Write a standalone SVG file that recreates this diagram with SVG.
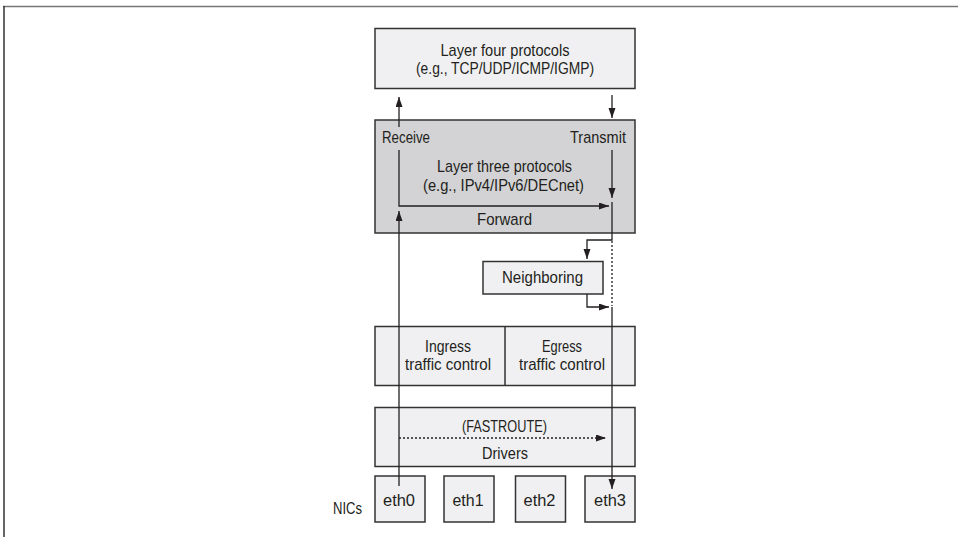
<svg xmlns="http://www.w3.org/2000/svg" width="958" height="537" viewBox="0 0 958 537">
<style>
.box{fill:#f0f0f2;stroke:#333;stroke-width:1.5}
.dark{fill:#d3d3d5;stroke:#333;stroke-width:1.5}
.t{font-family:"Liberation Sans",Arial,sans-serif;font-size:17px;fill:#231f20;text-anchor:middle}
.ln{fill:none;stroke:#231f20;stroke-width:1.3}
.dot{fill:none;stroke:#231f20;stroke-width:1.3;stroke-dasharray:2,2}
</style>
<defs>
<marker id="ah" markerUnits="userSpaceOnUse" markerWidth="11" markerHeight="8" refX="10" refY="3.5" orient="auto">
<path d="M0,0 L10,3.5 L0,7 z" fill="#231f20"/>
</marker>
</defs>
<rect width="958" height="537" fill="#fff"/>
<g id="frame">
<line x1="3" y1="6.5" x2="958" y2="6.5" stroke="#777" stroke-width="1.5"/>
<line x1="4" y1="6" x2="4" y2="537" stroke="#333" stroke-width="1.5"/>
</g>
<g id="layer4">
<rect class="box" x="375" y="28.5" width="260" height="60"/>
<text class="t" x="505" y="56" textLength="129" lengthAdjust="spacingAndGlyphs">Layer four protocols</text>
<text class="t" x="505" y="74" textLength="178" lengthAdjust="spacingAndGlyphs">(e.g., TCP/UDP/ICMP/IGMP)</text>
</g>
<g id="layer3">
<rect class="dark" x="375" y="120" width="260" height="113"/>
<text class="t" x="406" y="143" textLength="48" lengthAdjust="spacingAndGlyphs">Receive</text>
<text class="t" x="598" y="143" textLength="56" lengthAdjust="spacingAndGlyphs">Transmit</text>
<text class="t" x="504.5" y="172" textLength="135" lengthAdjust="spacingAndGlyphs">Layer three protocols</text>
<text class="t" x="503.5" y="191" textLength="161" lengthAdjust="spacingAndGlyphs">(e.g., IPv4/IPv6/DECnet)</text>
<text class="t" x="504.5" y="225" textLength="55" lengthAdjust="spacingAndGlyphs">Forward</text>
</g>
<g id="neighboring">
<rect class="box" x="483" y="261.5" width="120" height="32.5"/>
<text class="t" x="542.5" y="283" textLength="81" lengthAdjust="spacingAndGlyphs">Neighboring</text>
</g>
<g id="trafficcontrol">
<rect class="box" x="375" y="326.5" width="260" height="59"/>
<line x1="505" y1="326.5" x2="505" y2="385.5" stroke="#333" stroke-width="1.5"/>
<text class="t" x="448" y="352" textLength="46" lengthAdjust="spacingAndGlyphs">Ingress</text>
<text class="t" x="448" y="370" textLength="86" lengthAdjust="spacingAndGlyphs">traffic control</text>
<text class="t" x="562" y="352" textLength="40" lengthAdjust="spacingAndGlyphs">Egress</text>
<text class="t" x="562" y="370" textLength="86" lengthAdjust="spacingAndGlyphs">traffic control</text>
</g>
<g id="drivers">
<rect class="box" x="375" y="407.5" width="260" height="59"/>
<text class="t" x="504.5" y="432" textLength="85" lengthAdjust="spacingAndGlyphs">(FASTROUTE)</text>
<text class="t" x="505" y="459" textLength="46" lengthAdjust="spacingAndGlyphs">Drivers</text>
</g>
<g id="eth0">
<rect class="box" x="375" y="476" width="50" height="46"/>
<text class="t" x="399" y="506" textLength="32" lengthAdjust="spacingAndGlyphs">eth0</text>
</g>
<g id="eth1">
<rect class="box" x="444" y="476" width="50" height="46"/>
<text class="t" x="468" y="506" textLength="31" lengthAdjust="spacingAndGlyphs">eth1</text>
</g>
<g id="eth2">
<rect class="box" x="515.5" y="476" width="50" height="46"/>
<text class="t" x="539.5" y="506" textLength="32" lengthAdjust="spacingAndGlyphs">eth2</text>
</g>
<g id="eth3">
<rect class="box" x="585" y="476" width="50" height="46"/>
<text class="t" x="610" y="506" textLength="32" lengthAdjust="spacingAndGlyphs">eth3</text>
</g>
<g id="nics">
<text class="t" x="347.5" y="514" textLength="29" lengthAdjust="spacingAndGlyphs">NICs</text>
</g>
<g id="connectors">
<path class="ln" d="M399,127 L399,97" marker-end="url(#ah)"/>
<path class="ln" d="M612,95 L612,118" marker-end="url(#ah)"/>
<path class="ln" d="M399,150 L399,206 L609,206" marker-end="url(#ah)"/>
<path class="ln" d="M612,150 L612,198" marker-end="url(#ah)"/>
<path class="ln" d="M612,202 L612,240 L587,240 L587,259" marker-end="url(#ah)"/>
<path class="dot" d="M612,241 L612,306"/>
<path class="ln" d="M587,294 L587,307 L609,307" marker-end="url(#ah)"/>
<path class="ln" d="M612,307 L612,489" marker-end="url(#ah)"/>
<path class="ln" d="M399,486 L399,211" marker-end="url(#ah)"/>
<path class="dot" d="M399,438 L606,438" marker-end="url(#ah)"/>
</g>
</svg>
